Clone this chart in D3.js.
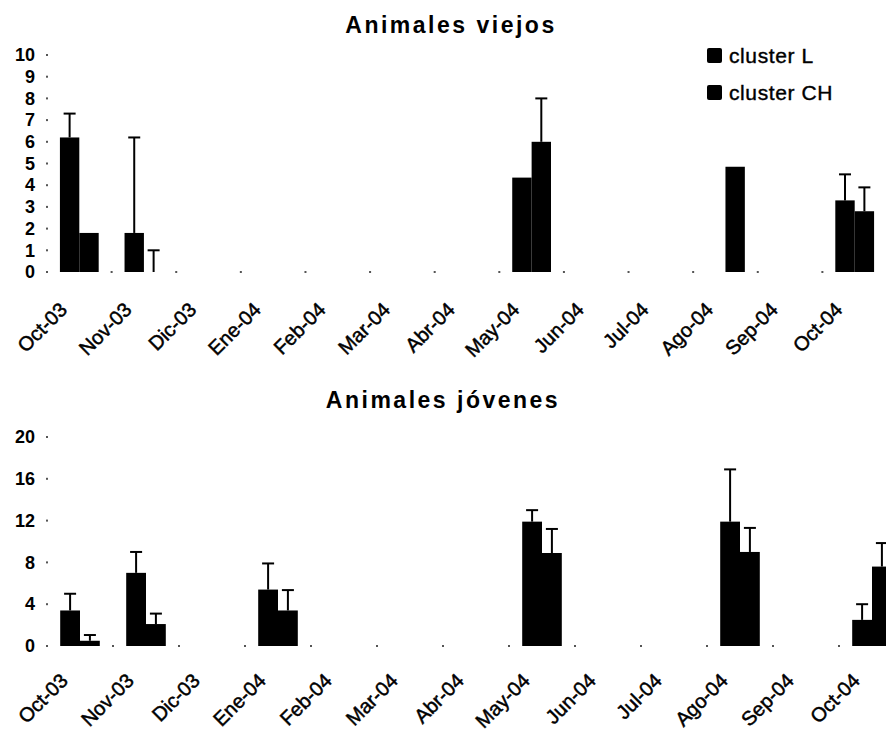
<!DOCTYPE html>
<html>
<head>
<meta charset="utf-8">
<script src="https://cdn.jsdelivr.net/npm/d3@7"></script>
<style>
  body { margin: 0; background: #fff; }
  svg { display: block; font-family: 'Liberation Sans', Arial, sans-serif; }
</style>
</head>
<body>
<svg id="chart" width="886" height="731"></svg>
<script>
const months = ['Oct-03', 'Nov-03', 'Dic-03', 'Ene-04', 'Feb-04', 'Mar-04', 'Abr-04',
    'May-04', 'Jun-04', 'Jul-04', 'Ago-04', 'Sep-04', 'Oct-04'];
const seriesNames = ['cluster L', 'cluster CH'];

// Animales viejos
const viejosL = [6.2, 1.8, null, null, null, null, null, 4.35, null, null, null, null, 3.3];
const viejosLErr = [1.1, 4.4, null, null, null, null, null, 0, null, null, null, null, 1.2];
const viejosCH = [1.8, 0, null, null, null, null, null, 6.0, null, null, 4.85, null, 2.8];
const viejosCHErr = [0, 1.0, null, null, null, null, null, 2.0, null, null, 0, null, 1.1];
const viejosTicks = [0, 1, 2, 3, 4, 5, 6, 7, 8, 9, 10];

// Animales jóvenes
const jovenesL = [3.4, 7.0, null, 5.4, null, null, null, 11.9, null, null, 11.9, null, 2.5];
const jovenesLErr = [1.6, 2.0, null, 2.5, null, null, null, 1.1, null, null, 5.0, null, 1.5];
const jovenesCH = [0.5, 2.1, null, 3.4, null, null, null, 8.9, null, null, 9.0, null, 7.6];
const jovenesCHErr = [0.55, 1.0, null, 1.95, null, null, null, 2.3, null, null, 2.3, null, 2.25];
const jovenesTicks = [0, 4, 8, 12, 16, 20];

const svg = d3.select('#chart');

function drawPanel(cfg) {
    const g = svg.append('g');

    const x = d3.scaleBand()
        .domain(months)
        .range([cfg.left, cfg.right])
        .padding(0);
    const bw = x.bandwidth();
    const x1 = d3.scaleBand()
        .domain(seriesNames)
        .range([bw * 0.2, bw * 0.8]);
    const y = d3.scaleLinear()
        .domain([0, cfg.max])
        .range([cfg.bottom, cfg.top]);

    // title
    g.append('text')
        .attr('x', cfg.titleX)
        .attr('y', cfg.titleY)
        .attr('text-anchor', 'middle')
        .style('font-size', '23px')
        .style('font-weight', 'bold')
        .style('letter-spacing', '2.5px')
        .text(cfg.title);

    // faint axis: only tiny dots remain in the scan
    const yAxis = d3.axisLeft(y).tickValues(cfg.ticks).tickSize(0).tickPadding(12);
    const ya = g.append('g')
        .attr('transform', `translate(${cfg.left},0)`)
        .call(yAxis);
    ya.select('.domain').remove();
    ya.selectAll('text')
        .style('font-size', '18px')
        .style('font-weight', 'bold')
        .style('font-family', "'Liberation Sans', Arial, sans-serif")
        .attr('fill', '#000');

    g.selectAll('.ydot')
        .data(cfg.ticks)
        .enter().append('rect')
        .attr('class', 'ydot')
        .attr('x', cfg.left - 1)
        .attr('y', (d) => y(d) - 1)
        .attr('width', 2)
        .attr('height', 2)
        .attr('fill', '#555');

    g.selectAll('.xdot')
        .data(months.concat(['end']))
        .enter().append('rect')
        .attr('class', 'xdot')
        .attr('x', (d, i) => cfg.left + i * bw - 1)
        .attr('y', cfg.bottom - 1)
        .attr('width', 2)
        .attr('height', 2)
        .attr('fill', '#555');

    // x labels
    g.selectAll('.xlab')
        .data(months)
        .enter().append('text')
        .attr('class', 'xlab')
        .attr('text-anchor', 'end')
        .attr('transform', (d) => `translate(${x(d) + bw / 2 - 11},${cfg.bottom + cfg.labelDy}) rotate(-45)`)
        .style('font-size', '20px')
        .attr('stroke', '#000')
        .attr('stroke-width', 0.5)
        .text((d) => d);

    // bars
    const rows = [];
    months.forEach((m, i) => {
        cfg.series.forEach((s, k) => {
            if (s.values[i] !== null) {
                rows.push({ month: m, name: seriesNames[k], value: s.values[i], err: s.errs[i] || 0 });
            }
        });
    });

    g.selectAll('.bar')
        .data(rows)
        .enter().append('rect')
        .attr('class', 'bar')
        .attr('x', (d) => x(d.month) + x1(d.name))
        .attr('y', (d) => y(d.value))
        .attr('width', x1.bandwidth())
        .attr('height', (d) => y(0) - y(d.value))
        .attr('fill', '#000');

    const eb = rows.filter((d) => d.err > 0);
    g.selectAll('.errv')
        .data(eb)
        .enter().append('line')
        .attr('class', 'errv')
        .attr('x1', (d) => x(d.month) + x1(d.name) + x1.bandwidth() / 2)
        .attr('x2', (d) => x(d.month) + x1(d.name) + x1.bandwidth() / 2)
        .attr('y1', (d) => y(d.value))
        .attr('y2', (d) => y(d.value + d.err))
        .attr('stroke', '#000')
        .attr('stroke-width', 2);
    g.selectAll('.errc')
        .data(eb)
        .enter().append('line')
        .attr('class', 'errc')
        .attr('x1', (d) => x(d.month) + x1(d.name) + x1.bandwidth() / 2 - 6)
        .attr('x2', (d) => x(d.month) + x1(d.name) + x1.bandwidth() / 2 + 6)
        .attr('y1', (d) => y(d.value + d.err))
        .attr('y2', (d) => y(d.value + d.err))
        .attr('stroke', '#000')
        .attr('stroke-width', 2);
}

drawPanel({
    title: 'Animales viejos', titleX: 451, titleY: 33,
    left: 47, right: 887, top: 55, bottom: 272, max: 10,
    ticks: viejosTicks, labelDy: 39,
    series: [{ values: viejosL, errs: viejosLErr }, { values: viejosCH, errs: viejosCHErr }],
});

drawPanel({
    title: 'Animales jóvenes', titleX: 443, titleY: 408,
    left: 47, right: 905, top: 437, bottom: 646, max: 20,
    ticks: jovenesTicks, labelDy: 36,
    series: [{ values: jovenesL, errs: jovenesLErr }, { values: jovenesCH, errs: jovenesCHErr }],
});

// legend
const legend = svg.append('g').attr('transform', 'translate(707,48)');
legend.selectAll('rect')
    .data(seriesNames)
    .enter().append('rect')
    .attr('x', 0)
    .attr('y', (d, i) => i * 37)
    .attr('width', 15)
    .attr('height', 15)
    .attr('rx', 2)
    .attr('fill', '#000');
legend.selectAll('text')
    .data(seriesNames)
    .enter().append('text')
    .attr('x', 22)
    .attr('y', (d, i) => i * 37 + 15)
    .style('font-size', '21px')
    .style('letter-spacing', '0.6px')
    .attr('stroke', '#000')
    .attr('stroke-width', 0.4)
    .text((d) => d);
</script>
</body>
</html>
